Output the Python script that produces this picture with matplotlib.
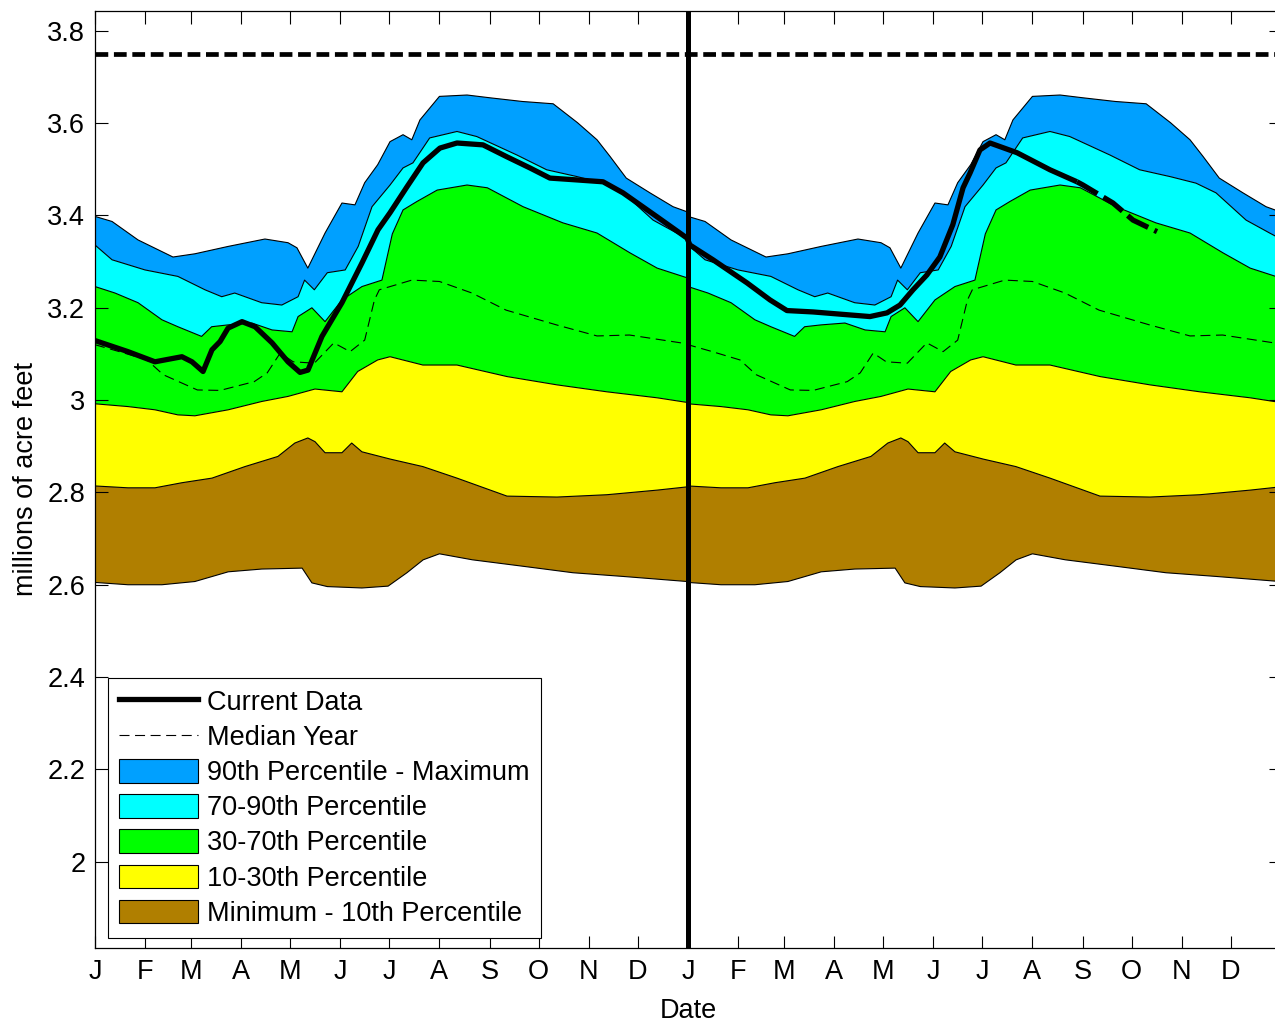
import numpy as np
import matplotlib.pyplot as plt
from matplotlib.patches import Patch
from matplotlib.lines import Line2D
from matplotlib.ticker import FormatStrFormatter

plt.rcParams['font.family'] = ['Liberation Sans', 'DejaVu Sans']

# -------- climatology boundaries (day of year, millions of acre feet) --------
max_days = [0, 10.5, 26.5, 48, 61.5, 82, 104.6, 118.8, 124.3, 131, 141.6, 152, 160, 166,
            174, 181.6, 189.6, 195, 200, 212, 229, 243, 263, 282, 297, 309, 317, 327,
            341.6, 355.8, 364.4]
max_vals = [3.398, 3.387, 3.347, 3.310, 3.317, 3.333, 3.349, 3.341, 3.330, 3.286, 3.362,
            3.427, 3.423, 3.471, 3.51, 3.560, 3.575, 3.564, 3.607, 3.658, 3.661, 3.655,
            3.647, 3.642, 3.601, 3.564, 3.528, 3.481, 3.449, 3.419, 3.408]

p90_days = [0, 10.5, 30.8, 51, 67.7, 78, 86, 102.6, 115, 125, 129, 135, 143, 154, 162,
            170.5, 181.6, 189.6, 195.7, 206, 222.8, 235, 259.7, 278, 297, 312.7, 325,
            343.5, 358, 364.4]
p90_vals = [3.336, 3.304, 3.282, 3.268, 3.239, 3.224, 3.232, 3.211, 3.206, 3.224, 3.260,
            3.239, 3.276, 3.282, 3.333, 3.419, 3.466, 3.503, 3.514, 3.568, 3.582, 3.571,
            3.531, 3.499, 3.484, 3.470, 3.449, 3.390, 3.362, 3.350]

p70_days = [0, 12.3, 26.5, 41.2, 51, 65.6, 71.8, 82, 96.6, 109, 121.3, 125, 133.5, 141.6,
            152, 164.3, 176.6, 183, 189.6, 198, 210.6, 229, 241.5, 263.5, 288, 309,
            329.3, 346, 364.4]
p70_vals = [3.246, 3.232, 3.211, 3.174, 3.159, 3.138, 3.159, 3.163, 3.167, 3.152, 3.148,
            3.181, 3.200, 3.170, 3.217, 3.246, 3.260, 3.360, 3.412, 3.430, 3.455, 3.466,
            3.460, 3.419, 3.384, 3.362, 3.319, 3.286, 3.265]

p30_days = [0, 20.3, 36.9, 51, 61.5, 82, 102.6, 118.8, 135.4, 152, 161.7, 174, 181.6,
            201.8, 222.8, 253.6, 284.4, 315, 346, 364.4]
p30_vals = [2.992, 2.986, 2.979, 2.968, 2.966, 2.979, 2.997, 3.008, 3.024, 3.018, 3.062,
            3.087, 3.094, 3.076, 3.076, 3.051, 3.033, 3.018, 3.005, 2.995]

p10_days = [0, 20.3, 36.9, 53.5, 72, 92.3, 112.6, 123, 131, 135.4, 141.6, 152, 158,
            164.3, 182, 201.8, 222.8, 253.6, 284.4, 315, 346, 364.4]
p10_vals = [2.814, 2.810, 2.810, 2.821, 2.831, 2.856, 2.878, 2.907, 2.918, 2.910, 2.886,
            2.886, 2.907, 2.888, 2.872, 2.856, 2.831, 2.792, 2.790, 2.795, 2.805, 2.812]

min_days = [0, 20.3, 41.2, 61.5, 82, 102.6, 127.5, 133.5, 143, 164.3, 180.4, 192, 202,
            212, 232.3, 263.5, 294.2, 325, 364.4]
min_vals = [2.605, 2.600, 2.600, 2.607, 2.628, 2.634, 2.636, 2.604, 2.596, 2.593, 2.597,
            2.626, 2.654, 2.667, 2.654, 2.640, 2.626, 2.618, 2.607]

median_days = [0, 15, 32, 42, 63, 77, 98, 106, 114, 122, 135, 147, 157, 166, 172, 175,
               195, 212, 232, 253, 284, 309, 329, 364.4]
median_vals = [3.120, 3.105, 3.087, 3.055, 3.022, 3.021, 3.040, 3.059, 3.102, 3.083,
               3.080, 3.124, 3.105, 3.130, 3.217, 3.239, 3.260, 3.257, 3.232, 3.195,
               3.163, 3.139, 3.141, 3.122]

# -------- current data (days since Jan 1 of first year) --------
current_days = [0, 20.3, 36.9, 53.5, 59.7, 66.5, 72, 77, 81.9, 90.5, 98.5, 109, 118.8,
                126.2, 131.1, 139.7, 152, 164.3, 174.2, 181.6, 192, 201.9, 212.3, 222.8,
                238.8, 253.6, 267.7, 280, 296.7, 312.7, 325, 346, 364.4, 366.2, 380.4,
                401.3, 415.5, 425.9, 442, 462.9, 477, 487.5, 495.5, 503.5, 512, 520, 528,
                534.3, 538.6, 544.7, 550.9, 567.5, 587.8, 604.4]
current_vals = [3.129, 3.105, 3.083, 3.094, 3.083, 3.062, 3.109, 3.127, 3.156, 3.170,
                3.159, 3.124, 3.083, 3.060, 3.065, 3.138, 3.211, 3.297, 3.369, 3.406,
                3.462, 3.514, 3.546, 3.557, 3.553, 3.527, 3.503, 3.481, 3.477, 3.473,
                3.449, 3.397, 3.351, 3.336, 3.304, 3.254, 3.217, 3.194, 3.191, 3.185,
                3.181, 3.189, 3.206, 3.239, 3.271, 3.310, 3.380, 3.460, 3.492, 3.542,
                3.557, 3.536, 3.499, 3.473]
forecast_days = [604.4, 608.1, 626.6, 638.9, 653.7]
forecast_vals = [3.473, 3.466, 3.427, 3.390, 3.365]

capacity = 3.75
month_starts = [0, 31, 59, 90, 120, 151, 181, 212, 243, 273, 304, 334]
month_labels = ['J', 'F', 'M', 'A', 'M', 'J', 'J', 'A', 'S', 'O', 'N', 'D']

band_colors = ['#00A0FF', '#00FFFF', '#00FF00', '#FFFF00', '#B07F00']
band_labels = ['90th Percentile - Maximum', '70-90th Percentile', '30-70th Percentile',
               '10-30th Percentile', 'Minimum - 10th Percentile']


def two_years(d, v):
    d = np.asarray(d, dtype=float)
    v = np.asarray(v, dtype=float)
    return np.r_[d, d + 365], np.r_[v, v]


bounds = [two_years(max_days, max_vals), two_years(p90_days, p90_vals),
          two_years(p70_days, p70_vals), two_years(p30_days, p30_vals),
          two_years(p10_days, p10_vals), two_years(min_days, min_vals)]

fs = 19.5
fig = plt.figure(figsize=(12.75, 10.22), dpi=100)
ax = fig.add_axes([95 / 1275, 1 - 948 / 1022, 1186 / 1275, 937 / 1022])

# -------- bands --------
for i in range(5):
    ux, uy = bounds[i]
    lx, ly = bounds[i + 1]
    ax.fill(np.r_[ux, lx[::-1]], np.r_[uy, ly[::-1]], color=band_colors[i], lw=0)
for bx, by in bounds:
    ax.plot(bx, by, color='k', lw=0.8)

mx, my = two_years(median_days, median_vals)
ax.plot(mx, my, color='k', lw=0.8, dashes=(9, 5))

ax.plot(current_days, current_vals, color='k', lw=3.8, solid_capstyle='butt')
ax.plot(forecast_days, forecast_vals, color='k', lw=3.8, dashes=(4.5, 1.3))

ax.axhline(capacity, color='k', lw=3.4, dashes=(2.7, 1.2))
ax.axvline(365, color='k', lw=3.6)

# -------- axes --------
ax.set_xlim(0, 730)
ax.set_ylim(1.813, 3.843)
ax.set_xticks(month_starts + [m + 365 for m in month_starts])
ax.set_xticklabels(month_labels * 2)
ax.set_yticks(np.arange(2.0, 3.81, 0.2))
ax.yaxis.set_major_formatter(FormatStrFormatter('%g'))
ax.tick_params(direction='in', length=9, width=0.8, top=True, right=True,
               labelsize=fs, pad=7)
ax.tick_params(axis='x', pad=8)
for s in ax.spines.values():
    s.set_linewidth(0.9)
ax.set_xlabel('Date', fontsize=fs, labelpad=9)
ax.set_ylabel('millions of acre feet', fontsize=fs, labelpad=6)

# -------- legend --------
handles = [Line2D([], [], color='k', lw=3.8),
           Line2D([], [], color='k', lw=0.8, dashes=(9, 5))]
handles += [Patch(facecolor=c, edgecolor='k', lw=0.8) for c in band_colors]
labels = ['Current Data', 'Median Year'] + band_labels
leg = ax.legend(handles, labels, loc='lower left', bbox_to_anchor=(13 / 1186, 10 / 937),
                borderaxespad=0, fontsize=fs, fancybox=False, framealpha=1,
                edgecolor='k', handlelength=2.9, handleheight=0.95, labelspacing=0.3,
                handletextpad=0.35, borderpad=0.42)
leg.get_frame().set_linewidth(0.8)

fig.savefig('out.png', dpi=100)
